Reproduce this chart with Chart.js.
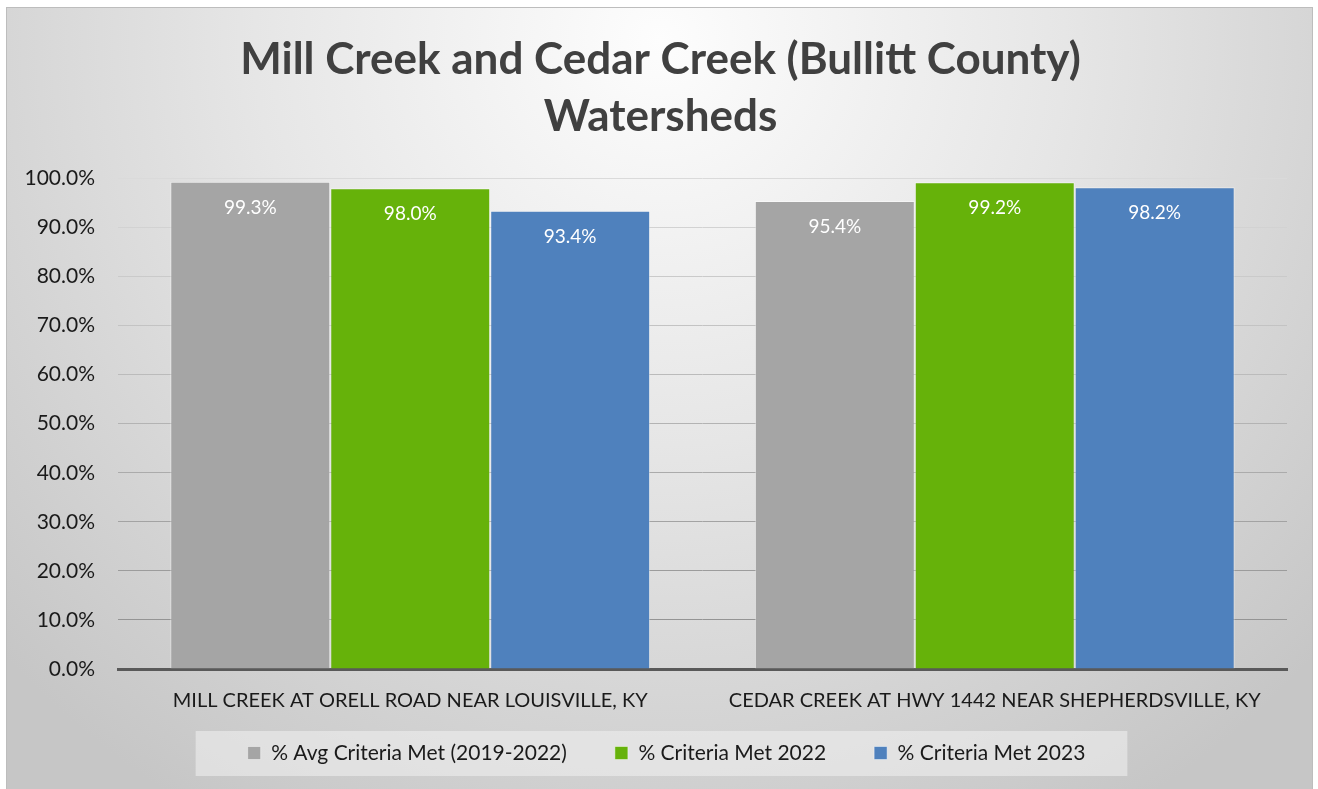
<!DOCTYPE html>
<html><head><meta charset="utf-8">
<script src="https://cdn.jsdelivr.net/npm/chart.js@4.4.1/dist/chart.umd.min.js"></script>
<style>html,body{margin:0;padding:0;background:#fff;overflow:hidden}</style>
</head><body>
<canvas id="c" width="1318" height="789" style="display:block;width:1318px;height:789px"></canvas>
<script>
const titleLines = ['Mill Creek and Cedar Creek (Bullitt County)', 'Watersheds'];
const categories = ['MILL CREEK AT ORELL ROAD NEAR LOUISVILLE, KY', 'CEDAR CREEK AT HWY 1442 NEAR SHEPHERDSVILLE, KY'];
const seriesNames = ['% Avg Criteria Met (2019-2022)', '% Criteria Met 2022', '% Criteria Met 2023'];
const avgCriteriaMet = [99.3, 95.4];
const criteriaMet2022 = [98.0, 99.2];
const criteriaMet2023 = [93.4, 98.2];
const yTickValues = [0, 10, 20, 30, 40, 50, 60, 70, 80, 90, 100];
const seriesColors = ['#a5a5a5', '#66b20a', '#4f81bd'];
const FONT = 'Lato, "Noto Sans", sans-serif';
const TEXT_SIZE = 21;
const LEGEND_PAD = 48;

const bgPlugin = {
  id: 'bg',
  beforeDraw(chart) {
    const ctx = chart.ctx;
    ctx.save();
    ctx.fillStyle = '#ffffff';
    ctx.fillRect(0, 0, chart.width, chart.height);
    const g = ctx.createRadialGradient(660, 40, 0, 660, 40, 900);
    g.addColorStop(0, '#fdfdfd');
    g.addColorStop(0.45, '#e6e6e6');
    g.addColorStop(1, '#c6c6c6');
    ctx.fillStyle = g;
    ctx.fillRect(6, 7, 1307, 782);
    ctx.strokeStyle = '#bdbdbd';
    ctx.lineWidth = 1;
    ctx.strokeRect(6.5, 7.5, 1306, 782);
    const lg = chart.legend;
    if (lg && lg.legendHitBoxes && lg.legendHitBoxes.length) {
      const hb = lg.legendHitBoxes;
      const x0 = hb[0].left - 52;
      const last = hb[hb.length - 1];
      const x1 = last.left + last.width + 42;
      const cy = hb[0].top + hb[0].height / 2;
      ctx.fillStyle = 'rgba(238,238,238,0.6)';
      ctx.fillRect(x0, cy - 22, x1 - x0, 45);
    }
    ctx.restore();
  }
};

const layoutTweakPlugin = {
  id: 'layoutTweak',
  beforeLayout(chart) {
    const lg = chart.legend;
    if (lg && !lg._sized) {
      const orig = lg.fit;
      lg.fit = function () { orig.call(this); this.height = 60; };
      lg._sized = true;
    }
  },
  afterLayout(chart) {
    const lg = chart.legend;
    if (lg) {
      lg.top = 753 - LEGEND_PAD - TEXT_SIZE / 2;
      lg.left += 20;
      lg.right += 20;
    }
    const tb = chart.titleBlock;
    if (tb) {
      tb.left += 14;
      tb.right += 14;
    }
  }
};

const labelPlugin = {
  id: 'barLabels',
  afterDatasetsDraw(chart) {
    const ctx = chart.ctx;
    ctx.save();
    ctx.fillStyle = '#ffffff';
    ctx.font = '19px ' + FONT;
    ctx.textAlign = 'center';
    ctx.textBaseline = 'middle';
    chart.data.datasets.forEach((ds, i) => {
      const meta = chart.getDatasetMeta(i);
      meta.data.forEach((bar, j) => {
        ctx.fillText(ds.data[j].toFixed(1) + '%', bar.x, bar.y + 26);
      });
    });
    ctx.restore();
  }
};

function gridColor(ctx) {
  const v = ctx.tick ? ctx.tick.value : 0;
  const t = v / 100;
  const c = Math.round(140 + (218 - 140) * t);
  return `rgb(${c},${c},${c})`;
}

new Chart(document.getElementById('c'), {
  type: 'bar',
  data: {
    labels: categories,
    datasets: [
      { label: seriesNames[0], data: avgCriteriaMet, backgroundColor: seriesColors[0], borderColor: 'rgba(255,255,255,0.45)', borderWidth: 1 },
      { label: seriesNames[1], data: criteriaMet2022, backgroundColor: seriesColors[1], borderColor: 'rgba(255,255,255,0.45)', borderWidth: 1 },
      { label: seriesNames[2], data: criteriaMet2023, backgroundColor: seriesColors[2], borderColor: 'rgba(255,255,255,0.45)', borderWidth: 1 }
    ]
  },
  options: {
    responsive: false,
    animation: false,
    devicePixelRatio: 1,
    layout: { padding: { left: 6, right: 31, top: 0, bottom: 0 } },
    datasets: { bar: { categoryPercentage: 0.821, barPercentage: 1.0 } },
    scales: {
      x: {
        grid: { display: false, drawTicks: false },
        border: { display: true, color: '#595959', width: 3 },
        ticks: { color: '#1a1a1a', font: { family: FONT, size: 20 }, padding: 20, maxRotation: 0 },
        afterFit(scale) { scale.height = 60; }
      },
      y: {
        min: 0, max: 100,
        afterBuildTicks(scale) { scale.ticks = yTickValues.map(v => ({ value: v })); },
        grid: { color: gridColor, lineWidth: 1, drawTicks: false },
        border: { display: false },
        ticks: { color: '#1a1a1a', font: { family: FONT, size: TEXT_SIZE }, padding: 23, callback: v => v.toFixed(1) + '%' },
        afterFit(scale) { scale.width = 112; }
      }
    },
    plugins: {
      title: {
        display: true,
        text: titleLines,
        color: '#404040',
        font: { family: FONT, size: 44, weight: 'bold', lineHeight: 1.3 },
        padding: { top: 31, bottom: 33 }
      },
      legend: {
        position: 'bottom',
        labels: {
          color: '#1a1a1a',
          font: { family: FONT, size: TEXT_SIZE },
          boxWidth: 13, boxHeight: 13,
          padding: LEGEND_PAD
        }
      },
      tooltip: { enabled: false }
    }
  },
  plugins: [layoutTweakPlugin, bgPlugin, labelPlugin]
});
</script>
</body></html>
